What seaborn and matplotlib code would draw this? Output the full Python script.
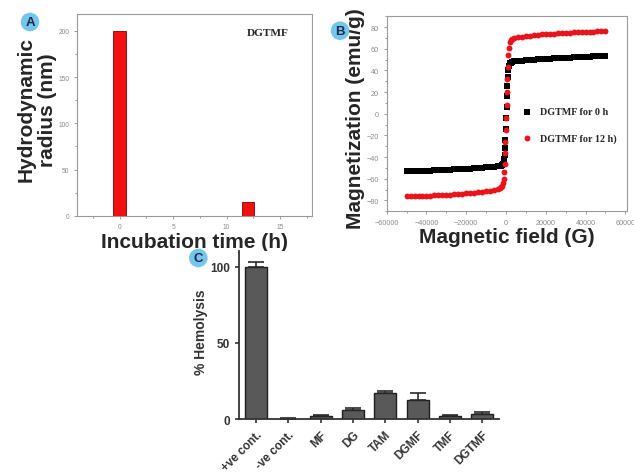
import numpy as np
import pandas as pd
import matplotlib
matplotlib.use("Agg")
import matplotlib.pyplot as plt
from matplotlib.ticker import MultipleLocator
import seaborn as sns

# ---------------- data ----------------
# Panel A: hydrodynamic radius vs incubation time
incubation_h = [0, 12]
radius_nm = [200, 15]

# Panel B: magnetization curves
field_G = [-50000, -48000, -46000, -44000, -42000, -40000, -38000, -36000,
           -34000, -32000, -30000, -28000, -26000, -24000, -22000, -20000,
           -18000, -16000, -14000, -12000, -10000, -8000, -6000, -4000,
           -3000, -2500, -2000, -1500, -1200, -900, -700, -500, -300, -100,
           100, 300, 500, 700, 900, 1200, 1500, 2000, 2500, 3000,
           4000, 6000, 8000, 10000, 12000, 14000, 16000, 18000, 20000,
           22000, 24000, 26000, 28000, 30000, 32000, 34000, 36000, 38000,
           40000, 42000, 44000, 46000, 48000, 50000]
mag_0h = [-53.2, -53.1, -53.0, -52.9, -52.7, -52.6, -52.4, -52.3,
          -52.1, -51.9, -51.7, -51.5, -51.3, -51.1, -50.9, -50.7,
          -50.5, -50.3, -50.0, -49.8, -49.5, -49.2, -48.8, -48.3,
          -48.0, -47.8, -47.5, -46.5, -45.0, -42.0, -38.0, -32.0, -24.0, -14.0,
          -4.0, 6.0, 16.0, 26.0, 34.0, 40.0, 44.0, 46.5, 47.3, 47.8,
          48.3, 48.8, 49.2, 49.5, 49.8, 50.0, 50.3, 50.5, 50.7,
          50.9, 51.1, 51.3, 51.5, 51.7, 51.9, 52.1, 52.3, 52.4,
          52.6, 52.7, 52.9, 53.0, 53.1, 53.2]
mag_12h = [-76.3, -76.2, -76.0, -75.9, -75.8, -75.6, -75.5, -75.3,
           -75.1, -74.9, -74.7, -74.5, -74.3, -74.0, -73.8, -73.5,
           -73.2, -72.9, -72.5, -72.1, -71.6, -71.0, -70.3, -69.5,
           -68.8, -68.0, -66.8, -64.0, -60.0, -54.0, -46.0, -36.0, -26.0, -15.0,
           -4.0, 8.0, 20.0, 32.0, 43.0, 54.0, 61.0, 66.0, 68.0, 69.0,
           69.8, 70.6, 71.3, 71.8, 72.2, 72.6, 73.0, 73.3, 73.6,
           73.9, 74.1, 74.4, 74.6, 74.8, 75.0, 75.2, 75.4, 75.5,
           75.7, 75.8, 75.9, 76.0, 76.1, 76.2]
series_labels = ["DGTMF for 0 h", "DGTMF for 12 h)"]

# Panel C: hemolysis
samples = ["+ve cont.", "-ve cont.", "MF", "DG", "TAM", "DGMF", "TMF", "DGTMF"]
hemolysis = [100, 0.4, 2.3, 6.2, 17.0, 12.6, 2.1, 3.6]
hemolysis_err = [2.8, 0.2, 0.5, 1.0, 1.7, 4.8, 0.4, 1.1]

# ---------------- figure ----------------
sns.set_style("white")
plt.rcParams["font.family"] = ["Liberation Sans", "DejaVu Sans"]

fig = plt.figure(figsize=(6.34, 4.77), dpi=100)
W, H = 634, 477

def ax_at(l, t, r, b):
    return fig.add_axes([l / W, 1 - b / H, (r - l) / W, (b - t) / H])

tick_gray = "#8a8a8a"
spine_gray = "#9a9a9a"

# ---- Panel A ----
axA = ax_at(77, 15.3, 312, 216.7)
sns.barplot(x=incubation_h, y=radius_nm, native_scale=True, width=0.1,
            color="#f01010", saturation=1, edgecolor="#7a0000", linewidth=0.6,
            errorbar=None, ax=axA)
axA.set_xlim(-4, 18)
axA.set_ylim(0, 218)
axA.xaxis.set_major_locator(MultipleLocator(5))
axA.xaxis.set_minor_locator(MultipleLocator(2.5))
axA.yaxis.set_major_locator(MultipleLocator(50))
axA.yaxis.set_minor_locator(MultipleLocator(25))
for s in axA.spines.values():
    s.set_color(spine_gray)
    s.set_linewidth(0.8)
axA.tick_params(which="both", direction="out", colors=tick_gray, labelsize=4.8,
                length=2, width=0.6, bottom=True, left=True)
axA.tick_params(which="minor", length=1.5)
axA.set_xlabel("Incubation time (h)", fontsize=15, fontweight="bold", labelpad=1)
axA.set_ylabel("Hydrodynamic\nradius (nm)", fontsize=15, fontweight="bold",
               linespacing=1.15)
axA.yaxis.set_label_coords((57 - 77) / 234.7, (216.7 - 110) / 201.4)
axA.text(0.81, 0.91, "DGTMF", transform=axA.transAxes, ha="center", va="center",
         fontsize=8.2, fontweight="bold", family=["Liberation Serif"])

# ---- Panel B ----
axB = ax_at(386.7, 17.3, 627.3, 212.3)
sns.scatterplot(x=field_G, y=mag_0h, marker="s", color="black", s=15,
                linewidth=0, label=series_labels[0], ax=axB)
sns.scatterplot(x=field_G, y=mag_12h, marker="o", color="#e8141b", s=18,
                linewidth=0, label=series_labels[1], ax=axB)
axB.set_xlim(-60000, 61000)
axB.set_ylim(-90, 90)
axB.xaxis.set_major_locator(MultipleLocator(20000))
axB.xaxis.set_minor_locator(MultipleLocator(10000))
axB.yaxis.set_major_locator(MultipleLocator(20))
axB.yaxis.set_minor_locator(MultipleLocator(10))
for s in axB.spines.values():
    s.set_color(spine_gray)
    s.set_linewidth(0.8)
axB.tick_params(which="both", direction="out", colors=tick_gray, labelsize=5.2,
                length=2, width=0.6, bottom=True, left=True)
axB.tick_params(which="minor", length=1.5)
axB.set_xlabel("Magnetic field (G)", fontsize=15, fontweight="bold", labelpad=1)
axB.set_ylabel("Magnetization (emu/g)", fontsize=15, fontweight="bold")
axB.yaxis.set_label_coords((365 - 386.7) / 240.6, 0.48)
leg = axB.legend(loc="upper left", bbox_to_anchor=(0.545, 0.56), frameon=False,
                 prop={"family": "Liberation Serif", "weight": "bold", "size": 7.3},
                 handlelength=0.8, handletextpad=0.9, labelspacing=1.65,
                 borderpad=0, markerscale=1.0)

# ---- Panel C ----
axC = ax_at(239, 252.3, 499.3, 420.3)
sns.barplot(x=samples, y=hemolysis, color="#595959", saturation=1, width=0.68,
            edgecolor="#1e1e1e", linewidth=1.0, errorbar=None, ax=axC)
pos = np.arange(len(samples))
axC.errorbar(pos, hemolysis, yerr=[np.zeros(len(hemolysis)), hemolysis_err],
             fmt="none", ecolor="#2a2a2a", elinewidth=1.2, capsize=5.5, capthick=1.2)
axC.set_xlim(-0.53, len(samples) - 0.47)
axC.set_ylim(0, 110)
axC.set_yticks([0, 50, 100])
sns.despine(ax=axC)
for s in ("left", "bottom"):
    axC.spines[s].set_color("#333333")
    axC.spines[s].set_linewidth(1.3)
axC.tick_params(direction="out", colors="#333333", length=3, width=1.2,
                bottom=True, left=True, labelsize=8.5)
for lab in axC.get_yticklabels():
    lab.set_fontweight("bold")
for lab in axC.get_xticklabels():
    lab.set_rotation(45)
    lab.set_ha("right")
    lab.set_rotation_mode("anchor")
    lab.set_fontweight("bold")
axC.set_xlabel("")
axC.set_ylabel("% Hemolysis", fontsize=10, fontweight="bold", color="#333333")
axC.yaxis.set_label_coords((208 - 239) / 260.3, (420.3 - 332) / 168)

# ---- panel letters ----
for letter, (px, py) in {"A": (30, 23), "B": (340, 31.7), "C": (198.3, 259)}.items():
    fig.text(px / W, 1 - py / H, letter, ha="center", va="center", fontsize=9.5,
             fontweight="bold", color="#1b2a4e",
             bbox=dict(boxstyle="circle,pad=0.25", fc="#74c6ec", ec="none"))

fig.savefig("out.png", dpi=100)
